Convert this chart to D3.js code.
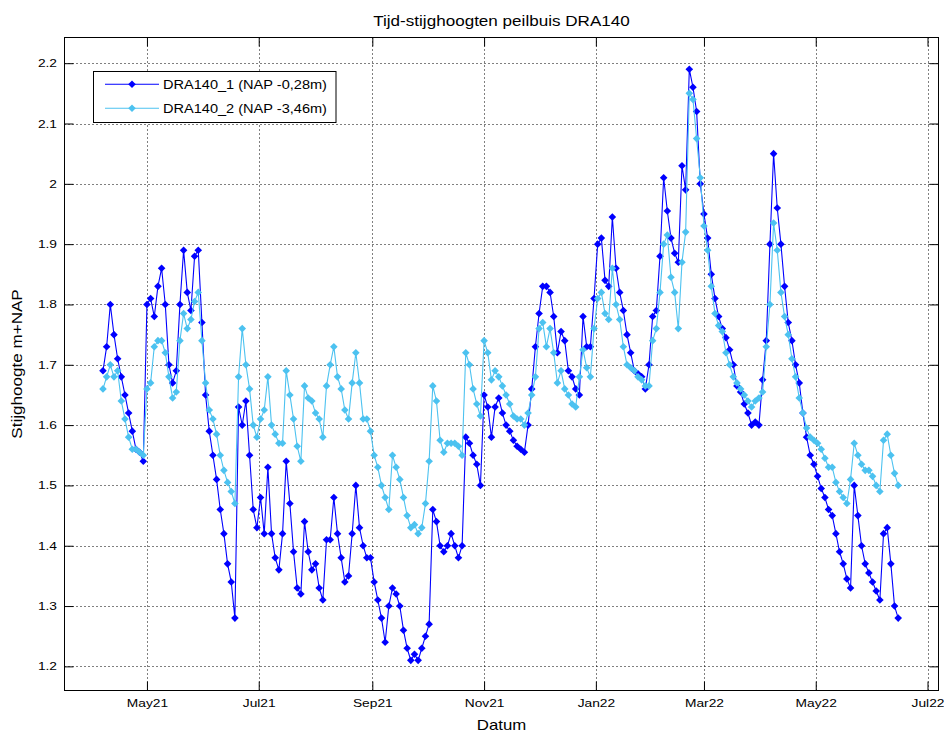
<!DOCTYPE html>
<html><head><meta charset="utf-8">
<script src="https://cdn.jsdelivr.net/npm/d3@7"></script>
<style>
body{margin:0;background:#fff}
svg{display:block}
text{font-family:"Liberation Sans",Arial,Helvetica,sans-serif;fill:#000}
</style>
</head><body>
<svg id="chart" width="944" height="734"></svg>
<script>
// ---------------- data ----------------
const titleText = "Tijd-stijghoogten peilbuis DRA140";
const xLabel = "Datum";
const yLabel = "Stijghoogte m+NAP";
const seriesNames = ["DRA140_1 (NAP -0,28m)", "DRA140_2 (NAP -3,46m)"];
const seriesColors = ["#0000ff", "#4cc2f0"];
const firstDate = "2021-04-07";   // first measurement
const stepDays = 2;                // measurement interval (days)

const dra140_1 = [
  1.69,1.73,1.80,1.75,1.71,1.68,1.65,1.62,1.59,1.56,1.555,1.54,
  1.80,1.81,1.78,1.83,1.86,1.80,1.70,1.67,1.69,1.80,1.89,1.82,
  1.79,1.88,1.89,1.77,1.65,1.59,1.55,1.51,1.46,1.42,1.37,1.34,
  1.28,1.63,1.60,1.64,1.55,1.46,1.43,1.48,1.42,1.53,1.42,1.38,
  1.36,1.42,1.54,1.47,1.39,1.33,1.32,1.44,1.39,1.36,1.37,1.33,
  1.31,1.41,1.41,1.48,1.42,1.38,1.34,1.35,1.42,1.50,1.43,1.40,
  1.38,1.38,1.34,1.31,1.28,1.24,1.30,1.33,1.32,1.30,1.26,1.23,
  1.21,1.22,1.21,1.23,1.25,1.27,1.46,1.44,1.40,1.39,1.40,1.42,
  1.40,1.38,1.40,1.58,1.57,1.55,1.535,1.50,1.65,1.63,1.58,1.63,
  1.645,1.62,1.60,1.59,1.575,1.565,1.56,1.555,1.60,1.66,1.73,1.785,
  1.83,1.83,1.82,1.78,1.72,1.755,1.74,1.69,1.68,1.66,1.65,1.78,
  1.73,1.73,1.81,1.90,1.91,1.84,1.83,1.945,1.86,1.82,1.79,1.75,
  1.72,1.69,1.685,1.68,1.66,1.70,1.78,1.79,1.88,2.01,1.955,1.91,
  1.885,1.87,2.03,1.99,2.19,2.16,2.12,2.00,1.95,1.91,1.85,1.81,
  1.78,1.76,1.745,1.725,1.70,1.665,1.655,1.635,1.62,1.60,1.605,1.60,
  1.675,1.74,1.90,2.05,1.96,1.90,1.83,1.77,1.74,1.70,1.67,1.62,
  1.58,1.55,1.535,1.515,1.495,1.48,1.46,1.45,1.42,1.39,1.37,1.345,
  1.33,1.50,1.45,1.40,1.37,1.355,1.34,1.325,1.31,1.42,1.43,1.37,1.30,1.28
];
const dra140_2 = [
  1.66,1.68,1.70,1.68,1.69,1.64,1.61,1.58,1.56,1.56,1.555,1.55,
  1.66,1.67,1.73,1.74,1.74,1.72,1.68,1.645,1.655,1.74,1.785,1.76,
  1.775,1.805,1.82,1.74,1.67,1.625,1.61,1.585,1.55,1.525,1.505,1.49,
  1.47,1.68,1.76,1.70,1.66,1.60,1.58,1.61,1.625,1.68,1.60,1.585,
  1.57,1.57,1.69,1.65,1.61,1.565,1.54,1.665,1.645,1.64,1.62,1.61,
  1.58,1.665,1.70,1.73,1.68,1.66,1.625,1.61,1.67,1.72,1.67,1.61,
  1.61,1.59,1.55,1.53,1.50,1.48,1.46,1.55,1.53,1.51,1.48,1.45,
  1.43,1.435,1.42,1.43,1.47,1.54,1.665,1.64,1.575,1.555,1.57,1.57,
  1.57,1.565,1.55,1.72,1.70,1.66,1.635,1.615,1.74,1.72,1.675,1.69,
  1.68,1.665,1.65,1.635,1.615,1.61,1.61,1.60,1.62,1.65,1.68,1.76,
  1.77,1.73,1.76,1.72,1.67,1.69,1.66,1.65,1.635,1.63,1.68,1.725,
  1.695,1.68,1.76,1.81,1.82,1.785,1.775,1.86,1.80,1.775,1.73,1.70,
  1.695,1.69,1.68,1.675,1.665,1.665,1.74,1.76,1.82,1.90,1.915,1.845,
  1.82,1.76,1.87,1.92,2.15,2.14,2.075,2.01,1.93,1.89,1.83,1.785,
  1.765,1.755,1.72,1.70,1.68,1.67,1.66,1.65,1.64,1.63,1.64,1.645,
  1.655,1.73,1.80,1.935,1.89,1.82,1.78,1.75,1.71,1.68,1.645,1.62,
  1.595,1.58,1.575,1.57,1.56,1.545,1.53,1.53,1.505,1.49,1.48,1.47,
  1.51,1.57,1.55,1.535,1.525,1.525,1.515,1.50,1.49,1.575,1.585,1.55,1.52,1.50
];
const xTickDates = ["2021-05-01","2021-07-01","2021-09-01","2021-11-01","2022-01-01","2022-03-01","2022-05-01","2022-07-01"];
const yTicks = [1.2,1.3,1.4,1.5,1.6,1.7,1.8,1.9,2.0,2.1,2.2];
const xLimits = ["2021-03-17","2022-07-07"];
const yLimits = [1.16, 2.2426];

// ---------------- layout ----------------
const W = 944, H = 734;
const plot = {left: 64.5, right: 938.5, top: 37.5, bottom: 690.5};
const svg = d3.select("#chart");
const parse = d3.utcParse("%Y-%m-%d");

const x = d3.scaleUtc().domain(xLimits.map(parse)).range([plot.left, plot.right]);
const y = d3.scaleLinear().domain(yLimits).range([plot.bottom, plot.top]);

const start = parse(firstDate);
const dates = dra140_1.map((_, i) => d3.utcDay.offset(start, i * stepDays));
const series = [dra140_1, dra140_2].map((vals, k) => ({
  name: seriesNames[k], color: seriesColors[k],
  points: vals.map((v, i) => ({date: dates[i], value: v}))
}));

svg.append("rect").attr("width", W).attr("height", H).attr("fill", "#fff");
svg.append("rect").attr("x", plot.left).attr("y", plot.top)
  .attr("width", plot.right - plot.left).attr("height", plot.bottom - plot.top).attr("fill", "#fff");

// grid
const grid = svg.append("g").attr("stroke", "#000").attr("stroke-width", 1).attr("stroke-dasharray", "1,3");
grid.selectAll("line.v").data(xTickDates.map(parse)).join("line")
  .attr("x1", d => Math.round(x(d)) + 0.5).attr("x2", d => Math.round(x(d)) + 0.5)
  .attr("y1", plot.top).attr("y2", plot.bottom);
grid.selectAll("line.h").data(yTicks).join("line")
  .attr("y1", d => Math.round(y(d)) + 0.5).attr("y2", d => Math.round(y(d)) + 0.5)
  .attr("x1", plot.left).attr("x2", plot.right);

// data
svg.append("clipPath").attr("id", "clip").append("rect")
  .attr("x", plot.left).attr("y", plot.top)
  .attr("width", plot.right - plot.left).attr("height", plot.bottom - plot.top);
const dataG = svg.append("g").attr("clip-path", "url(#clip)");
const line = d3.line().x(d => x(d.date)).y(d => y(d.value));
const diamond = "M0,-3.8L3.8,0L0,3.8L-3.8,0Z";
series.forEach(s => {
  dataG.append("path").datum(s.points).attr("d", line)
    .attr("fill", "none").attr("stroke", s.color).attr("stroke-width", 1.1);
  dataG.append("g").selectAll("path").data(s.points).join("path")
    .attr("d", diamond).attr("fill", s.color)
    .attr("transform", d => `translate(${x(d.date)},${y(d.value)})`);
});

// frame
svg.append("rect").attr("x", plot.left).attr("y", plot.top)
  .attr("width", plot.right - plot.left).attr("height", plot.bottom - plot.top)
  .attr("fill", "none").attr("stroke", "#000").attr("stroke-width", 1);

// axes (ticks inside, like MATLAB box)
const SX = 1.25; // horizontal stretch of the original's lettering
const fmtX = d3.utcFormat("%b%y");
const xAxis = svg.append("g").attr("transform", `translate(0,${plot.bottom})`)
  .call(d3.axisBottom(x).tickValues(xTickDates.map(parse)).tickFormat(fmtX).tickSize(-9).tickPadding(9));
const yAxis = svg.append("g").attr("transform", `translate(${plot.left},0)`)
  .call(d3.axisLeft(y).tickValues(yTicks).tickFormat(d3.format("~g")).tickSize(-9).tickPadding(7.5));
svg.append("g").attr("transform", `translate(0,${plot.top})`)
  .call(d3.axisTop(x).tickValues(xTickDates.map(parse)).tickFormat("").tickSize(-9));
svg.append("g").attr("transform", `translate(${plot.right},0)`)
  .call(d3.axisRight(y).tickValues(yTicks).tickFormat("").tickSize(-9));
svg.selectAll(".domain").remove();
svg.selectAll(".tick line").attr("stroke", "#000");
xAxis.selectAll("text").attr("font-size", 11).attr("font-family", null)
  .attr("transform", `scale(${SX},1)`);
yAxis.selectAll("text").attr("font-size", 11).attr("font-family", null)
  .attr("x", -7.5 / SX).attr("transform", `scale(${SX},1)`);

// titles
function stretchedText(px, py, txt, size, sx, anchor, rot) {
  svg.append("text")
    .attr("transform", `translate(${px},${py})${rot ? ` rotate(${rot})` : ""} scale(${sx},1)`)
    .attr("text-anchor", anchor).attr("font-size", size).text(txt);
}
const cx = (plot.left + plot.right) / 2;
stretchedText(cx, 26, titleText, 14, 1.22, "middle");
stretchedText(cx, 730, xLabel, 14, 1.2, "middle");
stretchedText(22, (plot.top + plot.bottom) / 2, yLabel, 14, 1.22, "middle", -90);

// legend
const lg = svg.append("g");
lg.append("rect").attr("x", 93.5).attr("y", 71.5).attr("width", 242.5).attr("height", 51)
  .attr("fill", "#fff").attr("stroke", "#000").attr("stroke-width", 1);
series.forEach((s, k) => {
  const ly = 84.3 + k * 24;
  lg.append("line").attr("x1", 105).attr("x2", 159).attr("y1", ly).attr("y2", ly)
    .attr("stroke", s.color).attr("stroke-width", 1.1);
  lg.append("path").attr("d", diamond).attr("fill", s.color).attr("transform", `translate(132,${ly})`);
  lg.append("text").attr("transform", `translate(163,${ly}) scale(1.12,1)`)
    .attr("dy", "0.35em").attr("font-size", 13).text(s.name);
});
</script>
</body></html>
